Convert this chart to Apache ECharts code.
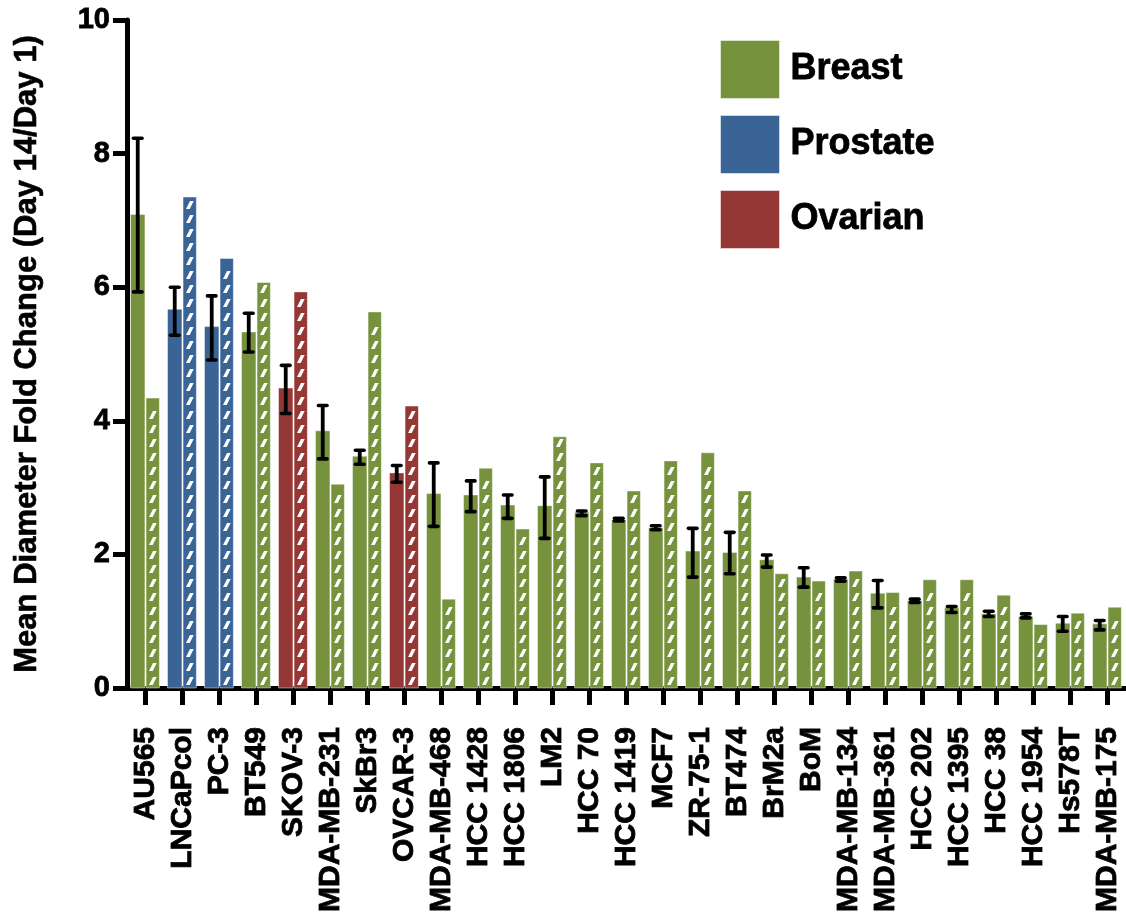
<!DOCTYPE html>
<html>
<head>
<meta charset="utf-8">
<script src="https://cdn.jsdelivr.net/npm/echarts@6/dist/echarts.min.js"></script>
<style>
html,body{margin:0;padding:0;background:#fff;}
#chart{width:1126px;height:924px;}
</style>
</head>
<body>
<div id="chart"></div>
<script>
const categories = ['AU565','LNCaPcol','PC-3','BT549','SKOV-3','MDA-MB-231','SkBr3','OVCAR-3','MDA-MB-468','HCC 1428','HCC 1806','LM2','HCC 70','HCC 1419','MCF7','ZR-75-1','BT474','BrM2a','BoM','MDA-MB-134','MDA-MB-361','HCC 202','HCC 1395','HCC 38','HCC 1954','Hs578T','MDA-MB-175'];
const tumorTypes = ['Breast','Prostate','Prostate','Breast','Ovarian','Breast','Breast','Ovarian','Breast','Breast','Breast','Breast','Breast','Breast','Breast','Breast','Breast','Breast','Breast','Breast','Breast','Breast','Breast','Breast','Breast','Breast','Breast'];
const solidValues = [7.09,5.67,5.41,5.33,4.49,3.85,3.47,3.22,2.91,2.89,2.74,2.73,2.63,2.52,2.40,2.05,2.03,1.92,1.66,1.63,1.42,1.31,1.20,1.11,1.07,0.97,0.96];
const hatchedValues = [4.34,7.35,6.43,6.07,5.93,3.05,5.63,4.22,1.33,3.29,2.38,3.76,3.37,2.95,3.40,3.52,2.95,1.71,1.60,1.75,1.43,1.62,1.62,1.39,0.95,1.12,1.21];
const errLow = [5.93,5.28,4.91,5.03,4.11,3.43,3.35,3.08,2.42,2.64,2.54,2.24,2.58,2.50,2.37,1.66,1.71,1.81,1.51,1.60,1.20,1.28,1.13,1.07,1.05,0.85,0.87];
const errHigh = [8.23,6.00,5.87,5.61,4.83,4.23,3.56,3.33,3.37,3.10,2.89,3.16,2.65,2.54,2.43,2.39,2.33,1.99,1.80,1.65,1.61,1.33,1.22,1.15,1.11,1.07,1.01];
const typeNames = ['Breast','Prostate','Ovarian'];
const typeColors = ['#76923c','#3b6496','#953735'];
const yTicks = [0,2,4,6,8,10];

const FONT = '"Liberation Sans", Arial, sans-serif';

function renderItem(params, api) {
  const idx = api.value(0);
  const base = api.coord([idx, 0]);
  const cx = base[0], y0 = base[1];
  const bw = api.size([1, 0])[0];
  const sw = bw * 0.39, gap = bw * 0.03, hw = bw * 0.36;
  const sTop = api.coord([idx, api.value(1)])[1];
  const hTop = api.coord([idx, api.value(2)])[1];
  const lowY = api.coord([idx, api.value(3)])[1];
  const highY = api.coord([idx, api.value(4)])[1];
  const color = api.visual('color');
  const sx = cx - sw - gap / 2;
  const hx = cx + gap / 2;
  const children = [];
  children.push({type:'rect', shape:{x:sx, y:sTop, width:sw, height:y0 - sTop},
    style:{fill:color, stroke:'rgba(255,255,255,0.45)', lineWidth:1}});
  children.push({type:'rect', shape:{x:hx, y:hTop, width:hw, height:y0 - hTop},
    style:{fill:color, stroke:'rgba(255,255,255,0.45)', lineWidth:1}});
  const period = 14, sh = 8;
  for (let yb = y0 - 3; yb - sh >= hTop + 1.5; yb -= period) {
    children.push({type:'polygon', shape:{points:[[hx + hw*0.22, yb],[hx + hw*0.50, yb],[hx + hw*0.80, yb - sh],[hx + hw*0.52, yb - sh]]},
      style:{fill:'#ffffff'}});
  }
  const ex = sx + sw / 2;
  const capW = 4.3;
  children.push({type:'line', shape:{x1:ex, y1:highY, x2:ex, y2:lowY}, style:{stroke:'#000', lineWidth:3.8}});
  children.push({type:'line', shape:{x1:ex - capW, y1:highY, x2:ex + capW, y2:highY}, style:{stroke:'#000', lineWidth:3.6, lineCap:'round'}});
  children.push({type:'line', shape:{x1:ex - capW, y1:lowY, x2:ex + capW, y2:lowY}, style:{stroke:'#000', lineWidth:3.6, lineCap:'round'}});
  return {type:'group', children};
}

const series = typeNames.map((name, t) => {
  const data = [];
  categories.forEach((c, i) => {
    if (tumorTypes[i] === name) data.push([i, solidValues[i], hatchedValues[i], errLow[i], errHigh[i]]);
  });
  return {
    type:'custom', name, renderItem, data,
    itemStyle:{color:typeColors[t]},
    encode:{x:0, y:[1,2,3,4]},
    clip:false
  };
});

const chart = echarts.init(document.getElementById('chart'));
chart.setOption({
  animation:false,
  backgroundColor:'#fff',
  grid:{left:127, right:0, top:20, bottom:236, containLabel:false},
  legend:{
    data:typeNames, orient:'vertical', left:720, top:40, padding:0,
    itemWidth:59, itemHeight:58, itemGap:16, icon:'rect',
    itemStyle:{borderColor:'rgba(255,255,255,0.5)', borderWidth:1},
    textStyle:{fontSize:36, fontWeight:'bold', color:'#000', fontFamily:FONT, padding:[0,0,0,6],
      textBorderColor:'#000', textBorderWidth:0.8}
  },
  xAxis:{
    type:'category', data:categories, boundaryGap:true,
    axisLine:{show:true, lineStyle:{color:'#000', width:5}},
    axisTick:{show:true, alignWithLabel:true, length:17, lineStyle:{color:'#000', width:5}},
    axisLabel:{rotate:90, margin:39, fontSize:30, fontWeight:'bold', color:'#000', fontFamily:FONT, interval:0,
      textBorderColor:'#000', textBorderWidth:0.8},
    splitLine:{show:false}
  },
  yAxis:{
    type:'value', min:yTicks[0], max:yTicks[yTicks.length-1], interval:2,
    name:'Mean Diameter Fold Change (Day 14/Day 1)', nameLocation:'middle', nameGap:84,
    nameTextStyle:{fontSize:31, fontWeight:'bold', color:'#000', fontFamily:FONT, textBorderColor:'#000', textBorderWidth:0.6},
    axisLine:{show:true, lineStyle:{color:'#000', width:5}},
    axisTick:{show:true, length:14, lineStyle:{color:'#000', width:5}},
    axisLabel:{margin:17, fontSize:29, fontWeight:'bold', color:'#000', fontFamily:FONT, textBorderColor:'#000', textBorderWidth:0.8},
    splitLine:{show:false}
  },
  series
});
</script>
</body>
</html>
